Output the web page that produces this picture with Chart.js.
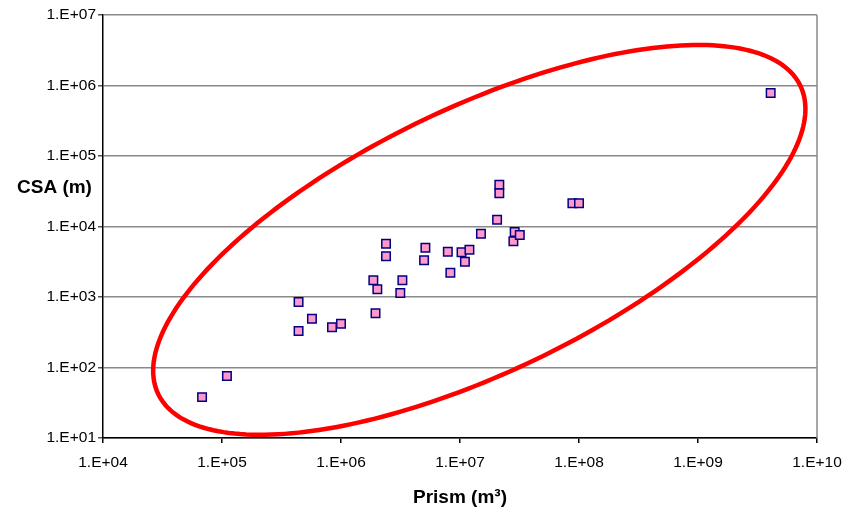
<!DOCTYPE html>
<html>
<head>
<meta charset="utf-8">
<script src="https://cdn.jsdelivr.net/npm/chart.js@4"></script>
<style>
  body { margin: 0; background: #fff; }
</style>
</head>
<body>
<canvas id="myChart" width="849" height="509"></canvas>
<script>
// tidal prism vs channel cross-section area
const prism = [6.8e4, 1.1e5, 4.4e5, 4.4e5, 5.7e5, 8.4e5, 1.0e6, 1.95e6, 1.87e6, 2.02e6,
  2.39e6, 2.39e6, 3.15e6, 3.28e6, 4.99e6, 5.12e6, 7.9e6, 8.3e6, 1.03e7, 1.1e7,
  1.2e7, 1.5e7, 2.05e7, 2.14e7, 2.14e7, 2.81e7, 2.88e7, 3.18e7, 8.8e7, 1.0e8, 4.08e9]
const csa = [38, 76, 850, 330, 490, 372, 418, 588, 1726, 1285,
  5700, 3780, 1140, 1726, 3310, 5000, 4400, 2210, 4300, 3170,
  4690, 7900, 12500, 39200, 29600, 6170, 8360, 7570, 21300, 21300, 7.8e5]

const xTicks = [1e4, 1e5, 1e6, 1e7, 1e8, 1e9, 1e10]
const xTickLabels = ['1.E+04', '1.E+05', '1.E+06', '1.E+07', '1.E+08', '1.E+09', '1.E+10']
const yTicks = [1e1, 1e2, 1e3, 1e4, 1e5, 1e6, 1e7]
const yTickLabels = ['1.E+01', '1.E+02', '1.E+03', '1.E+04', '1.E+05', '1.E+06', '1.E+07']

// the red ring, in decades (log10 units): centre and two half axes
const ringCentre = [7.162, 3.81]
const ringU = [2.70, 2.18]
const ringV = [0.47, -1.70]

const points = prism.map((p, i) => ({ x: p, y: csa[i] }))

const ringPlugin = {
  id: 'ring',
  afterDatasetsDraw(chart) {
    const { ctx, scales } = chart
    ctx.save()
    ctx.beginPath()
    for (let k = 0; k <= 240; k++) {
      let t = k / 240 * Math.PI * 2
      let lx = ringCentre[0] + ringU[0] * Math.cos(t) + ringV[0] * Math.sin(t)
      let ly = ringCentre[1] + ringU[1] * Math.cos(t) + ringV[1] * Math.sin(t)
      let px = scales.x.getPixelForValue(Math.pow(10, lx))
      let py = scales.y.getPixelForValue(Math.pow(10, ly))
      if (k === 0) ctx.moveTo(px, py)
      else ctx.lineTo(px, py)
    }
    ctx.closePath()
    ctx.strokeStyle = '#ff0000'
    ctx.lineWidth = 4.5
    ctx.stroke()
    ctx.restore()
  },
  afterDraw(chart) {
    const { ctx, chartArea } = chart
    ctx.save()
    // right border of the plot
    ctx.strokeStyle = '#8a8a8a'
    ctx.lineWidth = 1.5
    ctx.beginPath()
    ctx.moveTo(chartArea.right, chartArea.top)
    ctx.lineTo(chartArea.right, chartArea.bottom)
    ctx.stroke()
    // y axis title, written flat
    ctx.fillStyle = '#000'
    ctx.font = 'bold 19px "Liberation Sans", Arial, sans-serif'
    ctx.textAlign = 'left'
    ctx.textBaseline = 'middle'
    ctx.fillText('CSA (m)', 17, 188)
    ctx.restore()
  }
}

const ctx = document.getElementById('myChart').getContext('2d')
const myChart = new Chart(ctx, {
  type: 'scatter',
  data: {
    datasets: [{
      label: 'CSA',
      data: points,
      pointStyle: 'rect',
      pointRadius: 6,
      pointHoverRadius: 6,
      backgroundColor: '#ff99cc',
      borderColor: '#000080',
      borderWidth: 1.5
    }]
  },
  options: {
    responsive: false,
    animation: false,
    devicePixelRatio: 1,
    layout: { padding: { top: 15, right: 32, bottom: 0, left: 0 } },
    plugins: {
      legend: { display: false },
      tooltip: { enabled: false }
    },
    scales: {
      x: {
        type: 'logarithmic',
        min: 1e4,
        max: 1e10,
        afterBuildTicks: (s) => { s.ticks = xTicks.map(v => ({ value: v })) },
        afterFit: (s) => { s.height = 71 },
        ticks: {
          autoSkip: false,
          maxRotation: 0,
          padding: 7,
          color: '#000',
          font: { family: '"Liberation Sans", Arial, sans-serif', size: 15.5, lineHeight: 1.6 },
          callback: (v, i) => xTickLabels[i]
        },
        grid: { drawOnChartArea: false, drawTicks: true, tickLength: 5, tickColor: '#000', lineWidth: 1.5 },
        border: { color: '#000', width: 1.5 },
        title: {
          display: true,
          text: 'Prism (m³)',
          color: '#000',
          padding: { top: 0, bottom: 0 },
          font: { family: '"Liberation Sans", Arial, sans-serif', size: 19, weight: 'bold' }
        }
      },
      y: {
        type: 'logarithmic',
        min: 1e1,
        max: 1e7,
        afterBuildTicks: (s) => { s.ticks = yTicks.map(v => ({ value: v })) },
        afterFit: (s) => { s.width = 103 },
        ticks: {
          autoSkip: false,
          padding: 2,
          color: '#000',
          font: { family: '"Liberation Sans", Arial, sans-serif', size: 15.5 },
          callback: (v, i) => yTickLabels[i]
        },
        grid: { color: '#8a8a8a', lineWidth: 1.5, tickLength: 5, tickColor: '#555' },
        border: { color: '#000', width: 1.5 }
      }
    }
  },
  plugins: [ringPlugin]
})
</script>
</body>
</html>
